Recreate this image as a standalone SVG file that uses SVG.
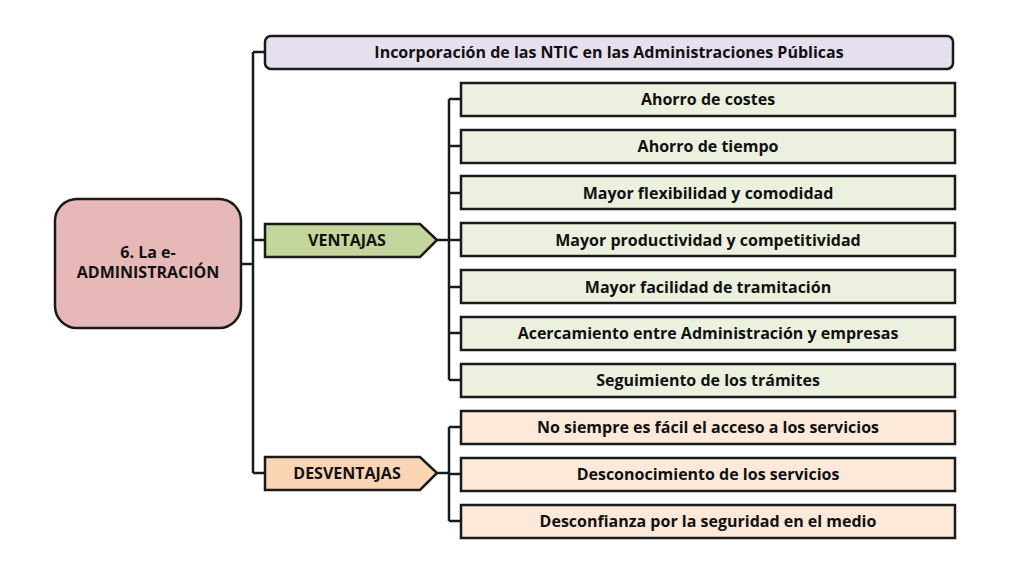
<svg xmlns="http://www.w3.org/2000/svg" width="1024" height="576" viewBox="0 0 1024 576">
<style>
.b{stroke:#1a1a1a;stroke-width:2.5}
.t{font-family:"Open Sans","Liberation Sans",sans-serif;font-weight:bold;font-size:16px;fill:#111;text-anchor:middle;dominant-baseline:central}
.c{fill:none;stroke:#1a1a1a;stroke-width:2.5}
.g{fill:#ebf1de}.o{fill:#fde9d9}
</style>
<rect width="1024" height="576" fill="#fff"/>
<g id="connectors">
<path class="c" d="M241 264H253M253 52V473M253 52H265M253 240H265M253 473H265"/>
<path class="c" d="M437 240H449M449 99V380M449 99H461M449 146H461M449 193H461M449 240H461M449 287H461M449 333H461M449 380H461"/>
<path class="c" d="M437 473H449M449 427V521M449 427H461M449 474H461M449 521H461"/>
</g>
<g id="root"><rect class="b" x="55" y="199" width="186" height="129" rx="22" fill="#e6b9b8"/><text class="t" x="148" y="252">6. La e-</text><text class="t" x="148" y="272">ADMINISTRACIÓN</text></g>
<g id="ntic"><rect class="b" x="265" y="36" width="688" height="33" rx="6" fill="#e6e0ee"/><text class="t" x="609" y="52">Incorporación de las NTIC en las Administraciones Públicas</text></g>
<g id="ventajas"><path class="b" d="M265 224H420L437 240L420 257H265Z" fill="#c3d69b"/><text class="t" x="347" y="240">VENTAJAS</text></g>
<g id="desventajas"><path class="b" d="M265 457H420L437 473L420 490H265Z" fill="#fbd4b4"/><text class="t" x="347" y="473">DESVENTAJAS</text></g>
<g id="v1"><rect class="b g" x="461" y="83" width="494" height="33"/><text class="t" x="708" y="99">Ahorro de costes</text></g>
<g id="v2"><rect class="b g" x="461" y="130" width="494" height="33"/><text class="t" x="708" y="146">Ahorro de tiempo</text></g>
<g id="v3"><rect class="b g" x="461" y="176" width="494" height="33"/><text class="t" x="708" y="193">Mayor flexibilidad y comodidad</text></g>
<g id="v4"><rect class="b g" x="461" y="223" width="494" height="33"/><text class="t" x="708" y="240">Mayor productividad y competitividad</text></g>
<g id="v5"><rect class="b g" x="461" y="270" width="494" height="33"/><text class="t" x="708" y="287">Mayor facilidad de tramitación</text></g>
<g id="v6"><rect class="b g" x="461" y="317" width="494" height="33"/><text class="t" x="708" y="333">Acercamiento entre Administración y empresas</text></g>
<g id="v7"><rect class="b g" x="461" y="364" width="494" height="33"/><text class="t" x="708" y="380">Seguimiento de los trámites</text></g>
<g id="d1"><rect class="b o" x="461" y="411" width="494" height="33"/><text class="t" x="708" y="427">No siempre es fácil el acceso a los servicios</text></g>
<g id="d2"><rect class="b o" x="461" y="458" width="494" height="33"/><text class="t" x="708" y="474">Desconocimiento de los servicios</text></g>
<g id="d3"><rect class="b o" x="461" y="505" width="494" height="33"/><text class="t" x="708" y="521">Desconfianza por la seguridad en el medio</text></g>
</svg>
